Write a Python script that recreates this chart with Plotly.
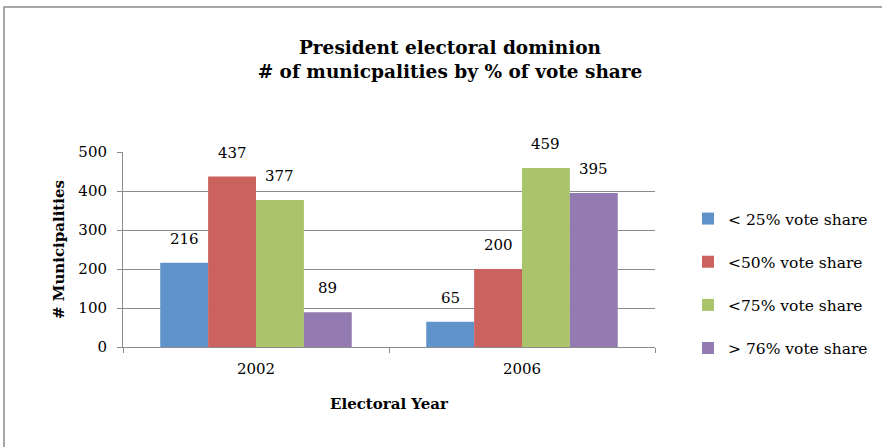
import plotly.graph_objects as go

years = ["2002", "2006"]
series_names = ["< 25% vote share", "<50% vote share", "<75% vote share", "> 76% vote share"]
lt25 = [216, 65]
lt50 = [437, 200]
lt75 = [377, 459]
gt76 = [89, 395]
all_values = [lt25, lt50, lt75, gt76]
colors = ["#5F93C9", "#CB625E", "#A9C46A", "#937BB2"]

FONT = "DejaVu Serif"
W, H = 882, 447
L, R, T, B = 123, 227, 152, 100
BARGAP = 0.28

fig = go.Figure()
for i, (name, vals) in enumerate(zip(series_names, all_values)):
    fig.add_trace(go.Bar(
        x=years, y=vals, name=name, marker_color=colors[i],
        marker_line_width=0, legendgroup=name,
    ))

# data labels
n = len(series_names)
bw = (1 - BARGAP) / n
annos = []
for i, vals in enumerate(all_values):
    for j, v in enumerate(vals):
        annos.append(dict(
            x=j + (i - (n - 1) / 2) * bw, y=v, xref="x", yref="y",
            text=str(v), showarrow=False, yanchor="bottom", yshift=13,
            font=dict(family=FONT, size=15, color="#000"),
        ))

pw = W - L - R
ph = H - T - B
fig.update_layout(
    width=W, height=H,
    margin=dict(l=L, r=R, t=T, b=B, pad=0, autoexpand=False),
    paper_bgcolor="white", plot_bgcolor="white",
    barmode="group", bargap=BARGAP, bargroupgap=0,
    font=dict(family=FONT, size=15, color="#000"),
    title=dict(
        text="<b>President electoral dominion<br># of municpalities by % of vote share</b>",
        x=450 / W, xanchor="center", y=1 - 54 / H, yanchor="top",
        font=dict(family=FONT, size=18.5, color="#000"),
    ),
    legend=dict(
        x=(688 - L) / pw, xanchor="left", y=0.5 - 34 / ph, yanchor="middle",
        tracegroupgap=20, font=dict(family=FONT, size=15.5),
        bgcolor="rgba(0,0,0,0)",
    ),
    annotations=annos,
    showlegend=True,
    shapes=[dict(
        type="rect", xref="paper", yref="paper",
        x0=(4 - L) / pw, x1=(W + 10 - L) / pw,
        y0=-(H + 10 - (H - B)) / ph, y1=(H - B - 7) / ph,
        line=dict(color="#8A8A8A", width=1.5), fillcolor="rgba(0,0,0,0)",
        layer="below",
    )],
)
fig.update_xaxes(
    type="category", range=[-0.5, 1.5], automargin=False,
    showline=True, linecolor="#8C8C8C", linewidth=1,
    ticks="outside", tickson="boundaries", ticklen=5, tickcolor="#8C8C8C",
    tickfont=dict(family=FONT, size=15), ticklabelstandoff=8,
    title=dict(text="<b>Electoral Year</b>", font=dict(family=FONT, size=15), standoff=21),
    showgrid=False,
)
fig.update_yaxes(
    range=[0, 500], dtick=100, automargin=False,
    showline=True, linecolor="#8C8C8C", linewidth=1,
    ticks="outside", ticklen=5, tickcolor="#8C8C8C",
    showgrid=True, gridcolor="#8C8C8C", gridwidth=1,
    tickfont=dict(family=FONT, size=15), ticklabelstandoff=7,
    title=dict(text="<b># Municipalities</b>", font=dict(family=FONT, size=15), standoff=10),
    zeroline=False,
)

fig.write_html("out.html", config={"displayModeBar": False},
               post_script="document.body.style.margin='0';")
